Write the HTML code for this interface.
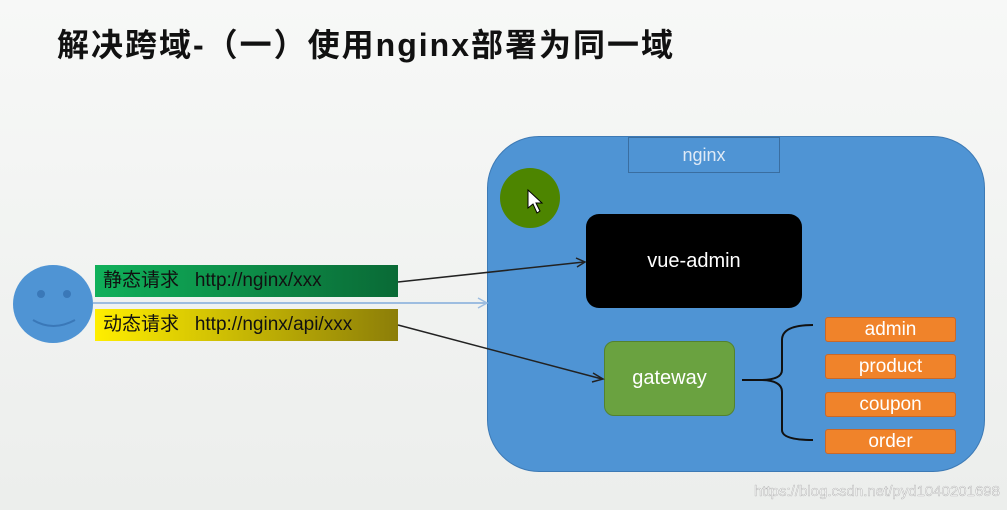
<!DOCTYPE html>
<html><head><meta charset="utf-8"><style>
body{margin:0;width:1007px;height:510px;overflow:hidden;background:linear-gradient(#f7f8f7,#eceeec);font-family:"Liberation Sans","Noto Sans CJK SC",sans-serif;position:relative}
.a{position:absolute}
.t{left:57px;top:20px;font-size:32px;font-weight:bold;color:#111;letter-spacing:2px}
.c{display:flex;align-items:center;justify-content:center;color:#fff}
.o{left:825px;width:131px;height:25px;background:#f0832a;border:1px solid #c8682a;border-radius:3px;font-size:19px;box-sizing:border-box}
.r{font-size:19px;color:#111;line-height:32px;padding-left:8px;box-sizing:border-box;white-space:nowrap}
</style></head><body>
<div class="a t">解决跨域-（一）使用nginx部署为同一域</div>
<div class="a" style="left:487px;top:136px;width:498px;height:336px;background:#4f94d4;border:1px solid #3d7ab5;border-radius:52px;box-sizing:border-box"></div>
<div class="a c" style="left:628px;top:137px;width:152px;height:36px;border:1px solid #3a6ea0;box-sizing:border-box;font-size:18px;color:#dfeaf6">nginx</div>
<div class="a" style="left:500px;top:168px;width:60px;height:60px;border-radius:50%;background:#4d8500"></div>
<div class="a c" style="left:586px;top:214px;width:216px;height:94px;background:#000;border-radius:13px;font-size:20px">vue-admin</div>
<div class="a c" style="left:604px;top:341px;width:131px;height:75px;background:#6aa240;border:1px solid #53822f;border-radius:10px;box-sizing:border-box;font-size:20px">gateway</div>
<div class="a c o" style="top:317px">admin</div>
<div class="a c o" style="top:354px">product</div>
<div class="a c o" style="top:392px">coupon</div>
<div class="a c o" style="top:429px">order</div>
<div class="a" style="left:13px;top:265px;width:80px;height:78px;border-radius:50%;background:#4f94d4"></div>
<div class="a" style="left:37px;top:290px;width:8px;height:8px;border-radius:50%;background:#3a78b8"></div>
<div class="a" style="left:63px;top:290px;width:8px;height:8px;border-radius:50%;background:#3a78b8"></div>
<div class="a r" style="left:95px;top:265px;width:303px;height:32px;background:linear-gradient(90deg,#10b05a,#0a6a36)">静态请求&nbsp;&nbsp; http://nginx/xxx</div>
<div class="a r" style="left:95px;top:309px;width:303px;height:32px;background:linear-gradient(90deg,#ffee00,#8c7e08)">动态请求&nbsp;&nbsp; http://nginx/api/xxx</div>
<svg class="a" style="left:0;top:0" width="1007" height="510">
<path d="M33 320 Q53 332 75 320" stroke="#3a78b8" stroke-width="2" fill="none"/>
<line x1="93" y1="303" x2="486" y2="303" stroke="#9dbde0" stroke-width="2"/>
<path d="M478 298 L487 303 L478 308" stroke="#9dbde0" stroke-width="1.5" fill="none"/>
<line x1="398" y1="282" x2="584" y2="262" stroke="#222" stroke-width="1.5"/>
<path d="M576 258 L585 262 L577 267" stroke="#222" stroke-width="1.5" fill="none"/>
<line x1="398" y1="325" x2="602" y2="379" stroke="#222" stroke-width="1.5"/>
<path d="M593 373 L603 379 L592 382" stroke="#222" stroke-width="1.5" fill="none"/>
<path d="M813 325 Q782 325 782 340 L782 370 Q782 380 760 380 L742 380 M760 380 Q782 380 782 392 L782 430 Q782 440 813 440" stroke="#111" stroke-width="2" fill="none"/>
<path d="M528 190 L528 208 L533 204 L537 213 L540 211 L536 203 L542 203 Z" fill="#fff" stroke="#000"/>
<text x="1000" y="496" text-anchor="end" font-family="Liberation Sans" font-size="15" fill="#f4f4f4" stroke="#999" stroke-width="0.3">https://blog.csdn.net/pyd1040201698</text>
</svg>
</body></html>
